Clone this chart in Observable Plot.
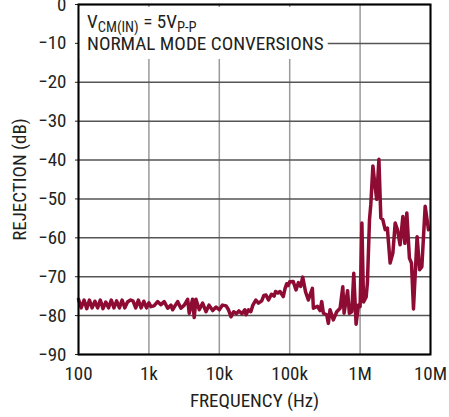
<!DOCTYPE html>
<html><head><meta charset="utf-8">
<script src="https://cdn.jsdelivr.net/npm/d3@7"></script>
<script src="https://cdn.jsdelivr.net/npm/@observablehq/plot@0.6"></script>
<style>
body{margin:0;background:#fff;}
</style>
</head><body><div id="chart"></div>
<script>
// Frequency (Hz) and normal-mode rejection (dB)
const freq = [
  100,109,120,131,143,156,171,187,204,223,244,267,292,319,348,381,416,455,497,543,594,649,709,775,847,926,1000,
  1070,1180,1330,1480,1650,1850,2060,2170,2560,2850,3180,3550,3740,4170,4400,4660,5190,5800,6470,7140,8060,9000,10000,
  11100,12500,13500,14700,16000,17500,19000,21000,23000,24000,26000,28000,30000,33000,36000,40000,43000,46000,50000,55000,60000,63000,68000,72800,81000,86000,90600,95000,100000,
  112000,123000,133000,143000,153000,168000,184000,199000,210000,217000,247000,270000,285000,301000,336000,354000,374000,417000,466000,520000,568000,592000,664000,704000,762000,813000,877000,946000,1000000,
  1060000,1120000,1220000,1270000,1360000,1420000,1520000,1630000,1720000,1850000,1970000,2100000,2270000,2440000,2670000,2920000,3150000,3390000,3700000,4050000,4320000,4610000,5020000,5370000,5730000,6450000,7000000,7540000,8400000,9360000
];
const rejection = [
  -75.8,-78,-76,-78.2,-76,-78,-76.3,-78,-76,-78.2,-76.5,-78,-76,-78,-76.2,-78,-76,-78,-76.5,-76,-76.2,-78,-76,-78,-76.3,-78,-76.7,
  -77.7,-77.5,-76.4,-77.2,-76.4,-78.1,-77.3,-78.5,-76.4,-78.1,-77.3,-75.8,-79.4,-75.8,-80.5,-75.8,-78.5,-76.8,-79,-77.3,-78.7,-77.8,-78.5,
  -77.3,-77.5,-78.5,-80.3,-79,-79.5,-78.8,-79.5,-78.5,-79.8,-78.5,-79,-77.3,-76,-76.8,-76.2,-74.8,-74.7,-76,-74.5,-75,-73.8,-74.2,-73.8,-75.1,-73,-71.8,-72.3,-71.3,
  -71.2,-73.4,-71.5,-72.5,-70.1,-73.9,-76,-74.2,-73,-78.1,-77.6,-78.7,-76.4,-79.4,-79.8,-82,-78.5,-81.1,-79,-78.1,-72.6,-79.4,-73.6,-79.4,-79,-69.1,-82.2,-77.3,-77.7,
  -56.2,-76.5,-75.2,-71.6,-55.3,-51.4,-41.5,-46.7,-50.1,-39.8,-54.9,-55.3,-57.9,-57.5,-66.5,-63.9,-56.2,-57.9,-61.8,-54.5,-61.4,-53.6,-65.2,-66.5,-78.3,-59.7,-68.2,-67.4,-51.9,-57.9
];
const xTicks = [100, 1e3, 1e4, 1e5, 1e6, 1e7];
const xTickLabels = ["100", "1k", "10k", "100k", "1M", "10M"];
const yTicks = [0, -10, -20, -30, -40, -50, -60, -70, -80, -90];
const xLabel = "FREQUENCY (Hz)";
const yLabel = "REJECTION (dB)";

const data = freq.map((f, i) => ({f, db: rejection[i]}));
const FONT = '"Liberation Sans Narrow", "Arial Narrow", "Roboto Condensed", "Liberation Sans", sans-serif';

const plot = Plot.plot({
  width: 449, height: 417,
  marginLeft: 78, marginRight: 19, marginTop: 4, marginBottom: 63,
  style: {fontFamily: FONT, fontSize: "19px", color: "#231f20", background: "white", overflow: "visible"},
  x: {type: "log", domain: [100, 1e7]},
  y: {domain: [-90, 0]},
  marks: [
    Plot.gridX(xTicks, {stroke: "#9a9a9a", strokeOpacity: 1, strokeWidth: 1.5}),
    Plot.gridY(yTicks, {stroke: "#555", strokeOpacity: 1, strokeWidth: 1.5}),
    Plot.axisX(xTicks, {tickSize: 0, tickPadding: 12, tickFormat: d => xTickLabels[xTicks.indexOf(d)],
      label: xLabel, labelAnchor: "center", labelArrow: "none", labelOffset: 52}),
    Plot.axisY(yTicks, {tickSize: 3, tickPadding: 9, label: yLabel, labelAnchor: "center", labelArrow: "none", labelOffset: 66}),
    Plot.line(data, {x: "f", y: "db", stroke: "#8e0b34", strokeWidth: 3.5, strokeLinejoin: "round"}),
    Plot.frame({stroke: "#000", strokeWidth: 2})
  ]
});
document.getElementById("chart").appendChild(plot);

// Annotation with subscripts, on a white box that interrupts the grid
const svg = d3.select(plot);
const xs = plot.scale("x"), ys = plot.scale("y");
const x0 = xs.apply(100), yTop = ys.apply(0);
const g = svg.insert("g", "[aria-label=line]").attr("text-anchor", "start");
const txt = g.append("text").attr("font-family", FONT).attr("font-size", 19.2).attr("fill", "#231f20").attr("text-anchor", "start");
const l1 = txt.append("tspan").attr("x", x0 + 9).attr("y", yTop + 24);
l1.append("tspan").text("V");
l1.append("tspan").attr("font-size", 14.5).attr("dy", 4).text("CM(IN)");
l1.append("tspan").attr("dy", -4).text(" = 5V");
l1.append("tspan").attr("font-size", 14.5).attr("dy", 4).text("P-P");
txt.append("tspan").attr("x", x0 + 9).attr("y", yTop + 46).text("NORMAL MODE CONVERSIONS");
const bb = txt.node().getBBox();
g.insert("rect", "text").attr("x", x0 + 1).attr("y", yTop + 3)
  .attr("width", bb.x + bb.width + 4 - (x0 + 1)).attr("height", bb.y + bb.height + 4 - (yTop + 3)).attr("fill", "white");
</script>
</body></html>
